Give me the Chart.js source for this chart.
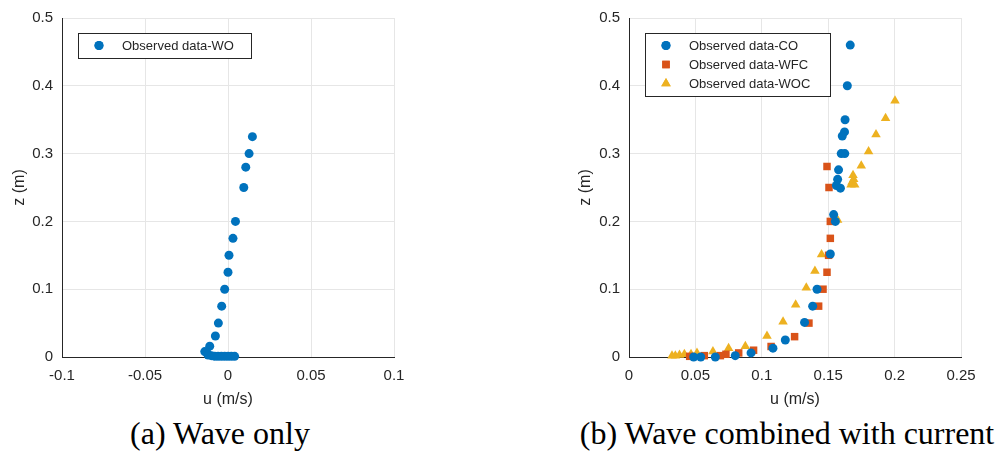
<!DOCTYPE html>
<html>
<head>
<meta charset="utf-8">
<script src="https://cdn.jsdelivr.net/npm/chart.js@4.4.1/dist/chart.umd.min.js"></script>
<style>
  body { margin: 0; background: #fff; width: 1000px; height: 457px; position: relative; overflow: hidden; }
  .box { position: absolute; top: 0; width: 420px; height: 415px; }
  .cap { position: absolute; top: 415px; font-family: "Liberation Serif", "Times New Roman", serif; font-size: 32px; color: #000; white-space: nowrap; transform: translateX(-50%); }
</style>
</head>
<body>
<div class="box" style="left:0px"><canvas id="chartA" width="420" height="415"></canvas></div>
<div class="box" style="left:566px"><canvas id="chartB" width="420" height="415"></canvas></div>
<div class="cap" style="left:220px">(a) Wave only</div>
<div class="cap" style="left:787px">(b) Wave combined with current</div>
<script>
"use strict";

// (a) wave only
const woU = [0.0147, 0.0127, 0.0107, 0.0095, 0.0045, 0.003, 0.0006, 0.0, -0.002, -0.0038, -0.0058, -0.0076, -0.011, -0.0126,
    -0.014, -0.012, -0.010, -0.008, -0.006, -0.004, -0.002, 0.0, 0.002, 0.004];
const woZ = [0.325, 0.3, 0.28, 0.25, 0.2, 0.175, 0.15, 0.125, 0.1, 0.075, 0.05, 0.031, 0.016, 0.006,
    0.008, 0.003, 0.002, 0.001, 0.001, 0.001, 0.001, 0.001, 0.001, 0.001];

// (b) wave combined with current
const coU = [0.1666, 0.1644, 0.1627, 0.1623, 0.1606, 0.1598, 0.1625, 0.1578, 0.1571, 0.1562, 0.1592, 0.1541, 0.1554,
    0.1516, 0.1416, 0.1383, 0.1322, 0.1177, 0.1084, 0.0919, 0.080, 0.065, 0.054, 0.0487];
const coZ = [0.46, 0.40, 0.35, 0.332, 0.326, 0.30, 0.30, 0.276, 0.262, 0.253, 0.249, 0.21, 0.20,
    0.152, 0.10, 0.075, 0.051, 0.025, 0.013, 0.006, 0.002, 0, 0, 0];

const wfcU = [0.1491, 0.1506, 0.1516, 0.1516, 0.1503, 0.1491, 0.1461, 0.1428, 0.1355, 0.1247, 0.107, 0.0938, 0.0826,
    0.073, 0.0688, 0.0567, 0.0457];
const wfcZ = [0.281, 0.25, 0.20, 0.175, 0.15, 0.125, 0.10, 0.075, 0.05, 0.03, 0.0155, 0.01, 0.006,
    0.004, 0.002, 0.002, 0.001];

const wocU = [0.2003, 0.1932, 0.186, 0.1804, 0.1749, 0.1687, 0.1692, 0.1680, 0.1672, 0.1700, 0.1571, 0.145, 0.14,
    0.1335, 0.1255, 0.116, 0.1039, 0.0876, 0.075, 0.0632, 0.0512, 0.0467, 0.0417, 0.038, 0.0349, 0.0324];
const wocZ = [0.378, 0.352, 0.328, 0.303, 0.282, 0.268, 0.262, 0.258, 0.254, 0.254, 0.202, 0.151, 0.127,
    0.102, 0.077, 0.052, 0.031, 0.016, 0.013, 0.008, 0.006, 0.004, 0.004, 0.003, 0.002, 0.002];

const blue = "#0072BD", orange = "#D95319", yellow = "#EDB120";
const axisColor = "#262626", gridColor = "#e6e6e6";
const sansFont = "'Liberation Sans', Arial, sans-serif";

function points(us, zs) {
    return us.map(function (u, i) {
        return { x: u, y: zs[i] };
    });
}

function series(label, us, zs, color, style, radius) {
    return {
        label: label,
        data: points(us, zs),
        pointStyle: style,
        pointRadius: radius,
        pointHoverRadius: radius,
        pointBorderWidth: 0,
        backgroundColor: color,
        borderColor: color,
        clip: false
    };
}

// short tick text like matlab: 0.1 not 0.10
function shortTick(value) {
    return String(parseFloat(value.toFixed(3)));
}

// legend box drawn inside the plot, top left
const legendBox = {
    id: "legendBox",
    afterDraw(chart, args, opts) {
        const ctx = chart.ctx;
        const area = chart.chartArea;
        const sets = chart.data.datasets;
        const x = area.left + 16, y = area.top + 15;
        const h = 25 + (sets.length - 1) * 19;
        ctx.save();
        ctx.fillStyle = "#fff";
        ctx.fillRect(x, y, opts.width, h);
        ctx.strokeStyle = axisColor;
        ctx.lineWidth = 1;
        ctx.strokeRect(x + 0.5, y + 0.5, opts.width, h);
        sets.forEach(function (ds, i) {
            const rowY = y + 12.5 + i * 19;
            ctx.fillStyle = ds.backgroundColor;
            Chart.helpers.drawPoint(ctx, { pointStyle: ds.pointStyle, radius: ds.pointRadius, rotation: 0, borderWidth: 0 }, x + 21, rowY);
            ctx.fill();
            ctx.fillStyle = axisColor;
            ctx.font = "13px " + sansFont;
            ctx.textBaseline = "middle";
            ctx.textAlign = "left";
            ctx.fillText(ds.label, x + 44, rowY + 1);
        });
        ctx.restore();
    }
};

function makeChart(id, datasets, xMin, xMax, yWidth, rightPad, legendWidth) {
    return new Chart(document.getElementById(id), {
        type: "scatter",
        data: { datasets: datasets },
        options: {
            responsive: false,
            animation: false,
            devicePixelRatio: 1,
            layout: { padding: { top: 12, right: rightPad, bottom: 0, left: 0 } },
            plugins: {
                legend: { display: false },
                tooltip: { enabled: false },
                legendBox: { width: legendWidth }
            },
            scales: {
                x: {
                    type: "linear",
                    min: xMin,
                    max: xMax,
                    grid: { color: gridColor, drawTicks: false },
                    border: { color: axisColor, width: 1 },
                    ticks: { stepSize: 0.05, padding: 10, color: axisColor, font: { family: sansFont, size: 15 }, callback: shortTick },
                    title: { display: true, text: "u (m/s)", color: axisColor, font: { family: sansFont, size: 16 }, padding: { top: 0, bottom: 6 } },
                    afterFit: function (scale) { scale.height = 58; }
                },
                y: {
                    type: "linear",
                    min: 0,
                    max: 0.5,
                    grid: { color: gridColor, drawTicks: false },
                    border: { color: axisColor, width: 1 },
                    ticks: { stepSize: 0.1, padding: 9, color: axisColor, font: { family: sansFont, size: 15 }, callback: shortTick },
                    title: { display: true, text: "z (m)", color: axisColor, font: { family: sansFont, size: 16 }, padding: { top: 10, bottom: 0 } },
                    afterFit: function (scale) { scale.width = yWidth; }
                }
            }
        },
        plugins: [legendBox]
    });
}

makeChart("chartA", [
    series("Observed data-WO", woU, woZ, blue, "circle", 4.5)
], -0.1, 0.1, 62, 26, 173);

makeChart("chartB", [
    series("Observed data-CO", coU, coZ, blue, "circle", 4.5),
    series("Observed data-WFC", wfcU, wfcZ, orange, "rect", 5.3),
    series("Observed data-WOC", wocU, wocZ, yellow, "triangle", 5.5)
], 0, 0.25, 63, 25, 185);
</script>
</body>
</html>
